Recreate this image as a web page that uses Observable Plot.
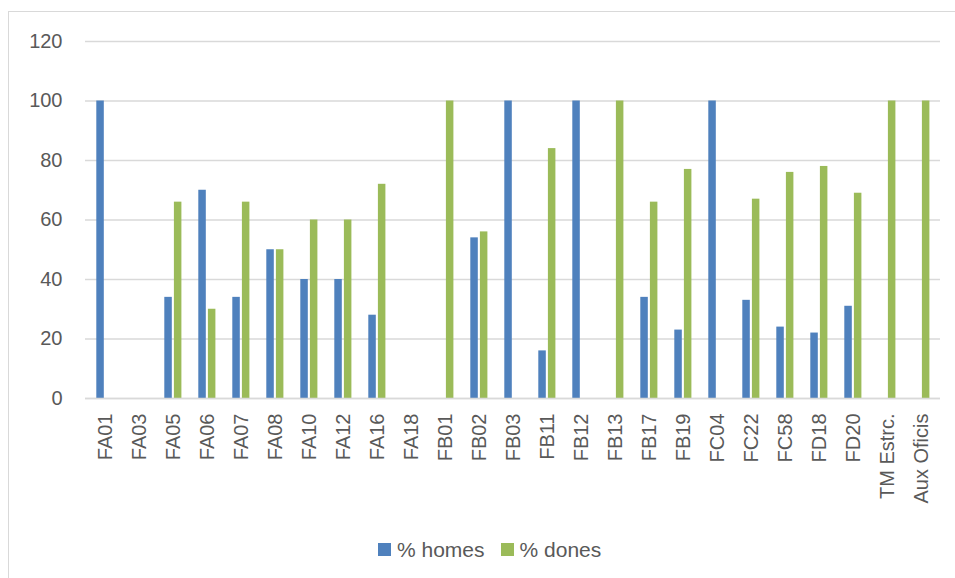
<!DOCTYPE html>
<html>
<head>
<meta charset="utf-8">
<script src="https://cdn.jsdelivr.net/npm/d3@7"></script>
<script src="https://cdn.jsdelivr.net/npm/@observablehq/plot@0.6"></script>
<style>
  html, body { margin: 0; padding: 0; background: #fff; width: 955px; height: 578px; overflow: hidden; }
  #frame { position: absolute; left: 8px; top: 11px; width: 1200px; height: 1200px;
           border-left: 1.5px solid #d9d9d9; border-top: 1.5px solid #d9d9d9; pointer-events: none; }
  #chart { position: absolute; left: 0; top: 0; }
  #legend { position: absolute; left: 378px; top: 525px; height: 49px; display: flex; align-items: center;
            font-family: "Liberation Sans", Arial, sans-serif; font-size: 21px; color: #595959; }
  .sw { width: 13px; height: 13px; display: inline-block; margin-right: 6px; }
  .item { display: flex; align-items: center; margin-right: 16px; }
</style>
</head>
<body>
<div id="frame"></div>
<div id="chart"></div>
<div id="legend"></div>
<script>
const categories = ["FA01","FA03","FA05","FA06","FA07","FA08","FA10","FA12","FA16","FA18",
  "FB01","FB02","FB03","FB11","FB12","FB13","FB17","FB19","FC04","FC22","FC58","FD18","FD20",
  "TM Estrc.","Aux Oficis"];
const homes = [100,0,34,70,34,50,40,40,28,0, 0,54,100,16,100,0,34,23,100,33,24,22,31, 0,0];
const dones = [0,0,66,30,66,50,60,60,72,0, 100,56,0,84,0,100,66,77,0,67,76,78,69, 100,100];
const yTicks = [0,20,40,60,80,100,120];
const seriesNames = ["% homes", "% dones"];
const colors = ["#4F81BD", "#9BBB59"];

const homesData = categories.map((c, i) => ({cat: c, v: homes[i]}));
const donesData = categories.map((c, i) => ({cat: c, v: dones[i]}));

const chart = Plot.plot({
  width: 955,
  height: 525,
  marginLeft: 85,
  marginRight: 15,
  marginTop: 41,
  marginBottom: 127,
  style: {fontFamily: "Liberation Sans, Arial, sans-serif", fontSize: "20px", color: "#595959", background: "transparent"},
  x: {domain: categories, padding: 0, label: null},
  y: {domain: [0, 120], label: null},
  marks: [
    Plot.gridY(yTicks, {stroke: "#d9d9d9", strokeOpacity: 1, strokeWidth: 1.5}),
    Plot.axisY({ticks: yTicks, tickSize: 0, tickPadding: 23, label: null, fontSize: 20}),
    Plot.barY(homesData.filter(d => d.v > 0), {x: "cat", y: "v", fill: colors[0], insetLeft: 8.3, insetRight: 18.2}),
    Plot.barY(donesData.filter(d => d.v > 0), {x: "cat", y: "v", fill: colors[1], insetLeft: 17.9, insetRight: 8.6}),
    Plot.ruleY([0], {stroke: "#d9d9d9", strokeWidth: 1.5}),
    Plot.axisX({tickSize: 0, tickPadding: 15, tickRotate: -90, label: null, fontSize: 20})
  ]
});
document.getElementById("chart").appendChild(chart);

const legend = document.getElementById("legend");
seriesNames.forEach((name, i) => {
  const item = document.createElement("span");
  item.className = "item";
  const sw = document.createElement("span");
  sw.className = "sw";
  sw.style.background = colors[i];
  item.appendChild(sw);
  item.appendChild(document.createTextNode(name));
  legend.appendChild(item);
});
</script>
</body>
</html>
